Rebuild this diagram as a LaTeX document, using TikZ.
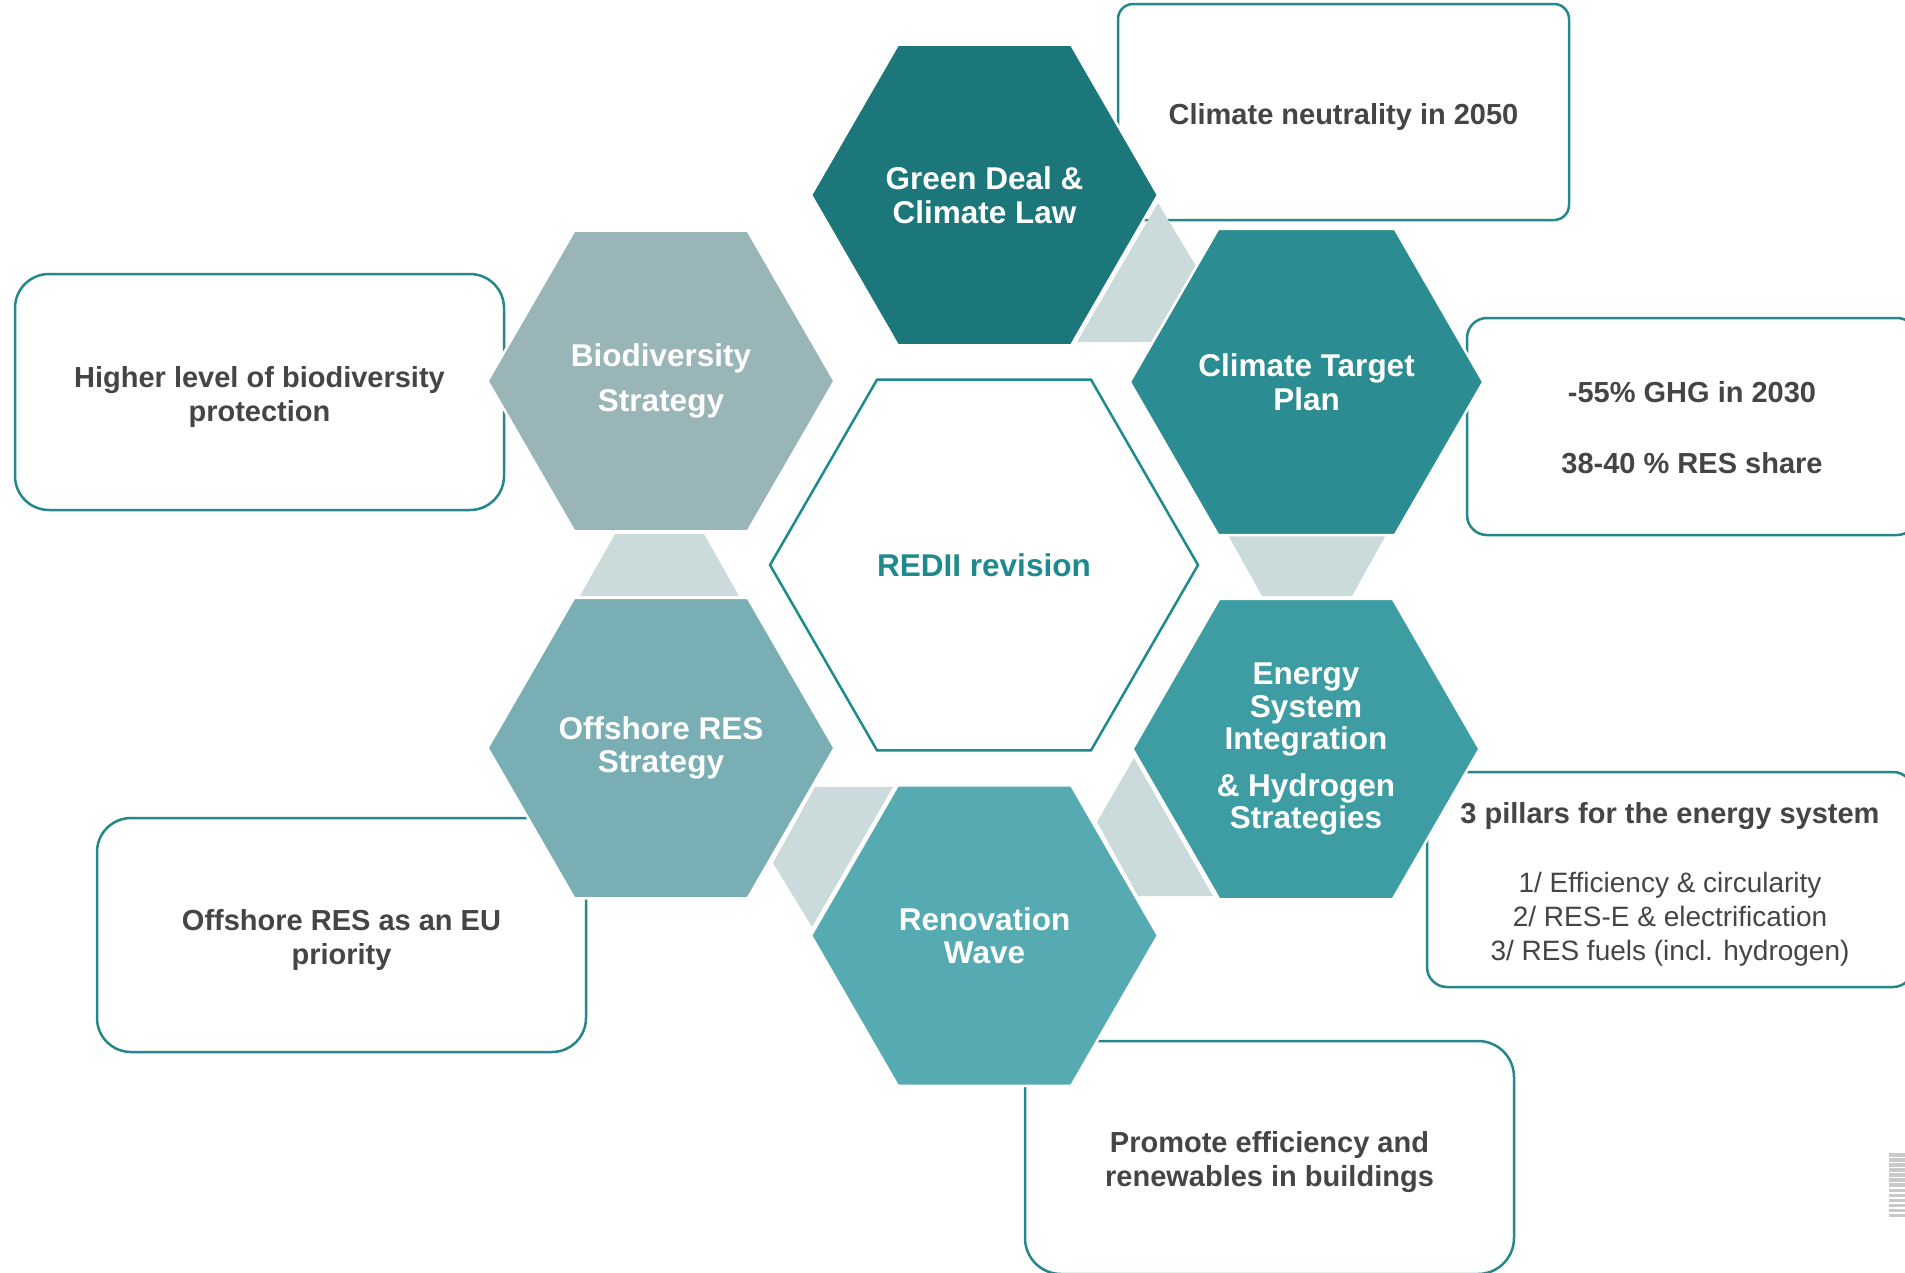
\documentclass[tikz,border=0pt]{standalone}
\usepackage{fontspec}
\setmainfont{Liberation Sans}
\usetikzlibrary{shapes.geometric}
\definecolor{gdcol}{HTML}{1C777A}
\definecolor{ctpcol}{HTML}{2B8C91}
\definecolor{esicol}{HTML}{3D9DA3}
\definecolor{rwcol}{HTML}{56ABB2}
\definecolor{orscol}{HTML}{79AFB4}
\definecolor{biocol}{HTML}{99B5B8}
\definecolor{linkfill}{HTML}{CBDADB}
\definecolor{boxline}{HTML}{23878B}
\definecolor{txtgray}{HTML}{454545}
\definecolor{rediicol}{HTML}{1F8A8E}
\definecolor{stripegray}{HTML}{C9C9C9}
\newcommand{\regline}[1]{{\fontsize{28}{34}\selectfont\mdseries #1}}
\begin{document}
\begin{tikzpicture}[x=1pt,y=-1pt,
  hexa/.style={regular polygon, regular polygon sides=6, minimum size=347pt,
    inner sep=0pt, draw=white, line width=2.5pt, text=white, align=center,
    font=\fontsize{31.5}{33.5}\selectfont\bfseries},
  infobox/.style={rectangle, draw=boxline, line width=2.5pt, fill=white,
    inner sep=0pt},
  boxtxt/.style={inner sep=0pt, align=center, text=txtgray,
    font=\fontsize{29}{34}\selectfont\bfseries},
  linkpiece/.style={fill=linkfill}]
\useasboundingbox (0,0) rectangle (1905,1272);
\clip (0,0) rectangle (1905,1272);

% information boxes
\node[infobox, minimum width=451pt, minimum height=216pt, rounded corners=15pt]
  (b1) at (1343.5,112) {};
\node[boxtxt] (b1t) at ([yshift=-5pt]b1.center) {Climate neutrality in 2050};

\node[infobox, minimum width=450pt, minimum height=217pt, rounded corners=20pt]
  (b2) at (1692,426.5) {};
\node[boxtxt, font=\fontsize{29}{35}\selectfont\bfseries] (b2t) at ([yshift=-1pt]b2.center)
  {-55\% GHG in 2030\\[36pt]38-40 \% RES share};

\node[infobox, minimum width=489pt, minimum height=236pt, rounded corners=34pt]
  (b3) at (259.5,392) {};
\node[boxtxt] (b3t) at ([yshift=-5pt]b3.center) {Higher level of biodiversity\\protection};

\node[infobox, minimum width=489pt, minimum height=234pt, rounded corners=34pt]
  (b4) at (341.5,935) {};
\node[boxtxt] (b4t) at ([yshift=-5pt]b4.center) {Offshore RES as an EU\\priority};

\node[infobox, minimum width=489pt, minimum height=233pt, rounded corners=36pt]
  (b5) at (1269.5,1157.5) {};
\node[boxtxt] (b5t) at ([yshift=-5pt]b5.center) {Promote efficiency and\\renewables in buildings};

\node[infobox, minimum width=486pt, minimum height=215pt, rounded corners=20pt]
  (b6) at (1670,879.5) {};
\node[boxtxt] (b6t) at ([yshift=-4.5pt]b6.center)
  {3 pillars for the energy system\\[35pt]\regline{1/ Efficiency \& circularity}\\\regline{2/ RES-E \& electrification}\\\regline{3/ RES fuels (incl. hydrogen)}};

% central hexagon
\node[regular polygon, regular polygon sides=6, minimum size=428pt, inner sep=0pt,
  draw=rediicol, line width=2.5pt, fill=white, text=rediicol,
  font=\fontsize{31.5}{33.5}\selectfont\bfseries] (redii) at (984,565) {REDII revision};

% link pieces between hexagons
\fill[linkpiece] (1158,203) -- (1196,266) -- (1151,342) -- (1077,342) -- cycle;
\fill[linkpiece] (1228,535) -- (1386,535) -- (1352,596) -- (1262,596) -- cycle;
\fill[linkpiece] (1134,758) -- (1213,896) -- (1138,896) -- (1097,822) -- cycle;
\fill[linkpiece] (815,787) -- (893,787) -- (812,927) -- (773,863) -- cycle;
\fill[linkpiece] (615,534) -- (704,534) -- (739,596) -- (580,596) -- cycle;

% ring of hexagons
\node[hexa, fill=gdcol] (gd) at (984.5,195) {Green Deal \&\\Climate Law};
\node[hexa, fill=ctpcol] (ctp) at (1306.5,382) {Climate Target\\Plan};
\node[hexa, fill=esicol, font=\fontsize{31.5}{32.7}\selectfont\bfseries] (esi) at (1306,749)
  {Energy\\System\\Integration\\[13.6pt]\& Hydrogen\\Strategies};
\node[hexa, fill=rwcol] (rw) at (984.5,935.5) {Renovation\\Wave};
\node[hexa, fill=orscol] (ors) at (661,748) {Offshore RES\\Strategy};
\node[hexa, fill=biocol] (bio) at (661,381) {Biodiversity\\[11pt]Strategy};

% logo fragment at the right edge
\foreach \k in {0,...,12}
  \fill[stripegray] (1889,{1153+\k*5.07}) rectangle (1905,{1156.6+\k*5.07});
\end{tikzpicture}
\end{document}
